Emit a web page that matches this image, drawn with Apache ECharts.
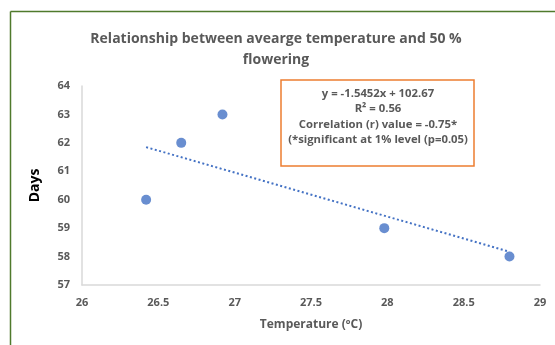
<!DOCTYPE html>
<html>
<head>
<meta charset="utf-8">
<script src="https://cdn.jsdelivr.net/npm/echarts@6/dist/echarts.min.js"></script>
<style>
html,body{margin:0;padding:0;background:#fff;}
#c{width:555px;height:345px;}
</style>
</head>
<body>
<div id="c"></div>
<script>
var temperature = [26.42, 26.65, 26.92, 27.98, 28.80];
var days = [60, 62, 63, 59, 58];
var trendX = [26.42, 28.80];
var trendY = [61.85, 58.17];
var xTicks = [26, 26.5, 27, 27.5, 28, 28.5, 29];
var yTicks = [57, 58, 59, 60, 61, 62, 63, 64];
var titleLines = ['Relationship between avearge temperature and 50 %', 'flowering'];
var boxLines = ['y = -1.5452x + 102.67', 'R\u00B2 = 0.56', 'Correlation (r) value = -0.75*', '(*significant at 1% level (p=0.05)'];

var font = 'Open Sans, Liberation Sans, sans-serif';
var grey = '#595959';

var chart = echarts.init(document.getElementById('c'), null, {renderer: 'canvas'});
var boxChildren = [{
  type: 'rect', shape: {x: 0, y: 0, width: 193, height: 86},
  style: {fill: '#fff', stroke: '#ED7D31', lineWidth: 1.5}
}];
boxLines.forEach(function (t, i) {
  boxChildren.push({
    type: 'text', x: 97, y: 13.5 + i * 15.5,
    style: {text: t, fill: grey, font: 'bold 11.3px ' + font, textAlign: 'center', textVerticalAlign: 'middle'}
  });
});

chart.setOption({
  animation: false,
  backgroundColor: '#fff',
  title: {
    text: titleLines.join('\n'),
    left: 271, top: 24, textAlign: 'center',
    textStyle: {fontFamily: font, fontSize: 14, fontWeight: 'bold', color: grey, lineHeight: 21}
  },
  grid: {left: 82, right: 15, top: 86, bottom: 60},
  xAxis: {
    type: 'value', min: xTicks[0], max: xTicks[xTicks.length - 1], interval: 0.5,
    name: 'Temperature (\u00BAC)', nameLocation: 'middle', nameGap: 34,
    nameTextStyle: {fontFamily: font, fontSize: 12, fontWeight: 'bold', color: grey},
    axisLine: {show: true, lineStyle: {color: '#d9d9d9', width: 1.5}},
    axisTick: {show: false},
    splitLine: {show: false},
    axisLabel: {fontFamily: font, fontSize: 11, fontWeight: 'bold', color: grey, margin: 12}
  },
  yAxis: {
    type: 'value', min: yTicks[0], max: yTicks[yTicks.length - 1], interval: 1,
    name: 'Days', nameLocation: 'middle', nameGap: 40, nameRotate: 90,
    nameTextStyle: {fontFamily: font, fontSize: 14, fontWeight: 'bold', color: '#000'},
    axisLine: {show: true, lineStyle: {color: '#d9d9d9', width: 1.5}},
    axisTick: {show: false},
    splitLine: {show: false},
    axisLabel: {fontFamily: font, fontSize: 11, fontWeight: 'bold', color: grey, margin: 12}
  },
  series: [{
    type: 'line',
    data: trendX.map(function (x, i) { return [x, trendY[i]]; }),
    symbol: 'none',
    lineStyle: {color: '#4472C4', width: 2, type: [2, 2.5]},
    z: 2
  }, {
    type: 'scatter',
    data: temperature.map(function (x, i) { return [x, days[i]]; }),
    symbolSize: 10,
    itemStyle: {color: '#4472C4'},
    z: 3
  }],
  graphic: [
    {type: 'line', shape: {x1: 10.5, y1: 11.5, x2: 555, y2: 11.5}, style: {stroke: '#4f7a2c', lineWidth: 1.5}},
    {type: 'line', shape: {x1: 10.5, y1: 11.5, x2: 10.5, y2: 345}, style: {stroke: '#4f7a2c', lineWidth: 1.5}},
    {type: 'group', x: 281, y: 80, children: boxChildren}
  ]
});
</script>
</body>
</html>
